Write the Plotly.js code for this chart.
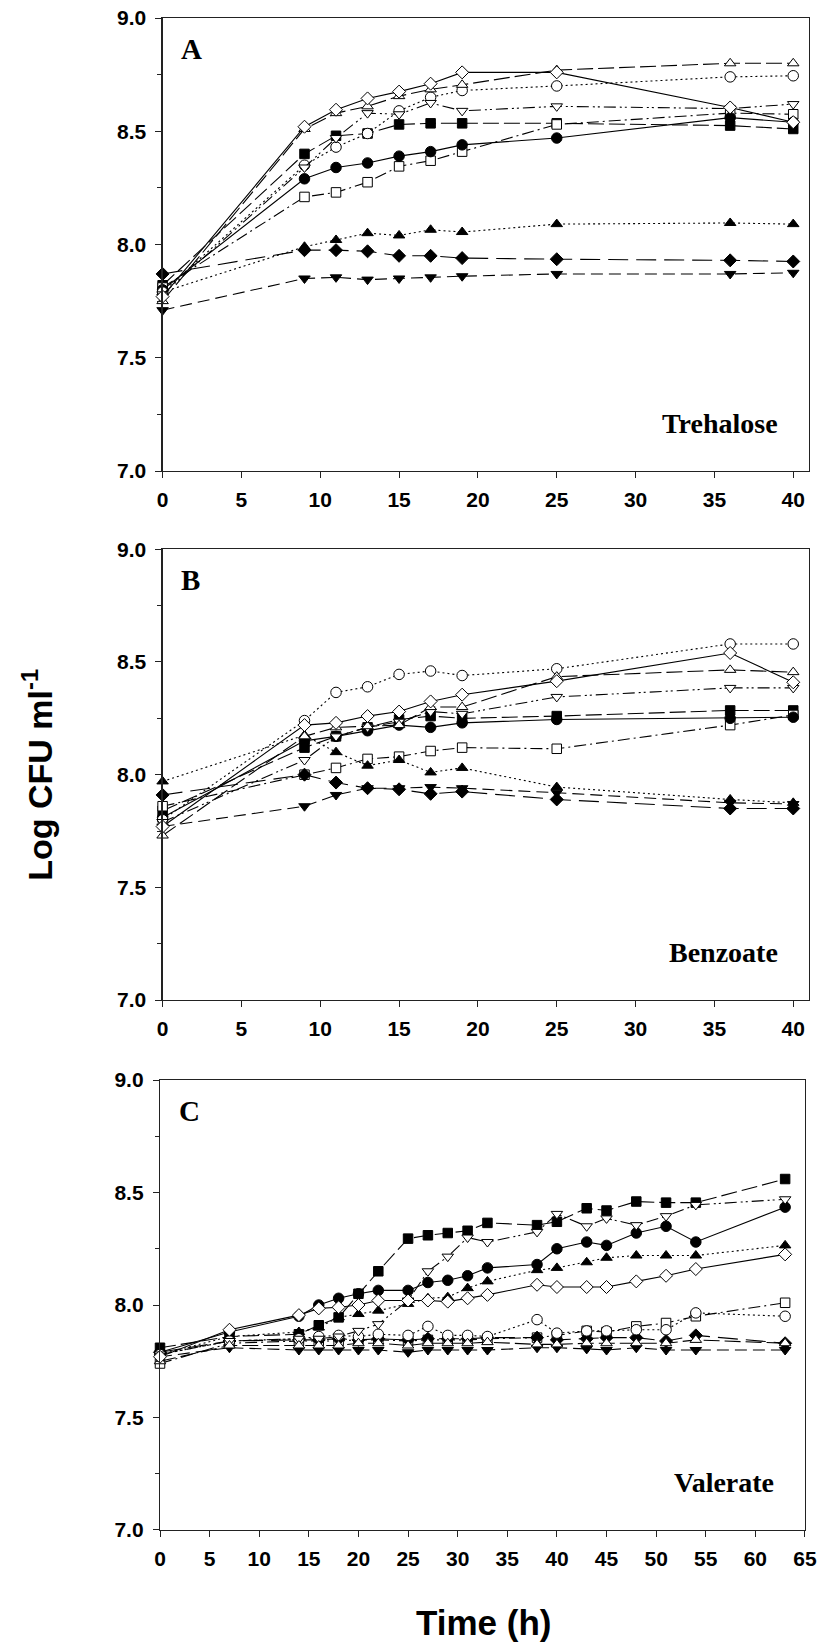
<!DOCTYPE html>
<html><head><meta charset="utf-8">
<script src="https://cdn.plot.ly/plotly-3.0.1.min.js"></script>
<style>body{margin:0;background:#fff}#chart{width:824px;height:1648px}</style>
</head><body><div id="chart"></div>
<script>
// ---------- data ----------
const timeAB = [0, 9, 11, 13, 15, 17, 19, 25, 36, 40];
const timeC = [0, 7, 14, 16, 18, 20, 22, 25, 27, 29, 31, 33, 38, 40, 43, 45, 48, 51, 54, 63];

// Panel A: Trehalose
const treFCircle  = [7.80, 8.29, 8.34, 8.36, 8.39, 8.41, 8.44, 8.47, 8.56, 8.54];
const treOCircle  = [7.79, 8.35, 8.43, 8.49, 8.59, 8.65, 8.68, 8.70, 8.74, 8.745];
const treFTriUp   = [7.79, 7.99, 8.02, 8.05, 8.04, 8.065, 8.055, 8.09, 8.095, 8.09];
const treOTriUp   = [7.75, 8.51, 8.58, 8.61, 8.655, 8.685, 8.705, 8.77, 8.80, 8.80];
const treFTriDown = [7.71, 7.85, 7.855, 7.845, 7.85, 7.855, 7.86, 7.87, 7.87, 7.875];
const treOTriDown = [7.78, 8.34, 8.47, 8.58, 8.575, 8.625, 8.59, 8.61, 8.60, 8.62];
const treFSquare  = [7.82, 8.40, 8.48, 8.49, 8.53, 8.535, 8.535, 8.535, 8.525, 8.51];
const treOSquare  = [7.81, 8.21, 8.23, 8.275, 8.345, 8.37, 8.41, 8.53, 8.58, 8.575];
const treFDiamond = [7.87, 7.975, 7.975, 7.97, 7.95, 7.95, 7.94, 7.935, 7.93, 7.925];
const treODiamond = [7.77, 8.52, 8.595, 8.645, 8.675, 8.71, 8.76, 8.76, 8.605, 8.54];

// Panel B: Benzoate
const benFCircle  = [7.81, 8.15, 8.17, 8.195, 8.22, 8.21, 8.23, 8.245, 8.25, 8.255];
const benOCircle  = [7.80, 8.24, 8.365, 8.39, 8.445, 8.46, 8.44, 8.47, 8.58, 8.58];
const benFTriUp   = [7.97, 8.175, 8.10, 8.04, 8.065, 8.01, 8.03, 7.945, 7.89, 7.875];
const benOTriUp   = [7.73, 8.17, 8.21, 8.215, 8.22, 8.30, 8.30, 8.435, 8.465, 8.455];
const benFTriDown = [7.77, 7.86, 7.91, 7.94, 7.94, 7.945, 7.94, 7.92, 7.875, 7.87];
const benOTriDown = [7.79, 8.065, 8.17, 8.21, 8.235, 8.28, 8.27, 8.345, 8.385, 8.385];
const benFSquare  = [7.84, 8.12, 8.17, 8.21, 8.245, 8.26, 8.25, 8.26, 8.285, 8.285];
const benOSquare  = [7.86, 8.00, 8.03, 8.07, 8.08, 8.105, 8.12, 8.115, 8.22, 8.265];
const benFDiamond = [7.91, 8.00, 7.965, 7.94, 7.935, 7.915, 7.925, 7.89, 7.85, 7.85];
const benODiamond = [7.77, 8.22, 8.23, 8.26, 8.28, 8.325, 8.355, 8.415, 8.54, 8.41];

// Panel C: Valerate
const valFCircle  = [7.79, 7.88, 7.95, 8.00, 8.03, 8.05, 8.065, 8.065, 8.10, 8.11, 8.13, 8.165, 8.18, 8.25, 8.28, 8.265, 8.32, 8.35, 8.28, 8.435];
const valOCircle  = [7.78, 7.84, 7.85, 7.86, 7.865, 7.86, 7.87, 7.865, 7.905, 7.865, 7.865, 7.86, 7.935, 7.875, 7.885, 7.885, 7.89, 7.89, 7.965, 7.95];
const valFTriUp   = [7.78, 7.86, 7.88, 7.90, 7.945, 7.96, 7.975, 8.005, 8.03, 8.035, 8.075, 8.105, 8.155, 8.165, 8.19, 8.21, 8.22, 8.22, 8.22, 8.265];
const valOTriUp   = [7.75, 7.82, 7.82, 7.82, 7.82, 7.83, 7.83, 7.82, 7.83, 7.83, 7.83, 7.835, 7.825, 7.825, 7.83, 7.83, 7.83, 7.83, 7.845, 7.83];
const valFTriDown = [7.77, 7.81, 7.80, 7.80, 7.80, 7.80, 7.80, 7.79, 7.80, 7.80, 7.80, 7.80, 7.81, 7.81, 7.805, 7.80, 7.81, 7.80, 7.80, 7.80];
const valOTriDown = [7.78, 7.84, 7.85, 7.85, 7.86, 7.885, 7.915, 8.02, 8.15, 8.215, 8.30, 8.28, 8.325, 8.405, 8.35, 8.385, 8.355, 8.395, 8.445, 8.47];
const valFSquare  = [7.81, 7.86, 7.87, 7.91, 7.945, 8.05, 8.15, 8.295, 8.31, 8.32, 8.33, 8.365, 8.355, 8.37, 8.43, 8.42, 8.46, 8.455, 8.455, 8.56];
const valOSquare  = [7.74, 7.83, 7.84, 7.84, 7.84, 7.845, 7.845, 7.84, 7.845, 7.845, 7.845, 7.85, 7.855, 7.865, 7.885, 7.88, 7.905, 7.92, 7.95, 8.01];
const valFDiamond = [7.79, 7.84, 7.845, 7.845, 7.85, 7.845, 7.85, 7.845, 7.85, 7.85, 7.85, 7.855, 7.855, 7.845, 7.85, 7.855, 7.855, 7.84, 7.865, 7.83];
const valODiamond = [7.77, 7.89, 7.955, 7.985, 7.99, 8.00, 8.02, 8.02, 8.02, 8.015, 8.03, 8.045, 8.09, 8.08, 8.08, 8.08, 8.105, 8.13, 8.16, 8.225];

const yTicks = [7.0, 7.5, 8.0, 8.5, 9.0];
const panelLetters = ['A', 'B', 'C'];
const substrates = ['Trehalose', 'Benzoate', 'Valerate'];

// ---------- styles ----------
const styles = {
  fSquare:  {symbol: 'square',        fill: 'black', dash: '16px,5px', size: 9.5},
  oSquare:  {symbol: 'square',        fill: 'white', dash: '12px,4px,2px,4px', size: 9.5},
  fDiamond: {symbol: 'diamond',       fill: 'black', dash: '20px,8px', size: 10},
  fTriDown: {symbol: 'triangle-down', fill: 'black', dash: '12px,6px', size: 10},
  fTriUp:   {symbol: 'triangle-up',   fill: 'black', dash: '2px,3px', size: 10},
  fCircle:  {symbol: 'circle',        fill: 'black', dash: 'solid', size: 10.5},
  oCircle:  {symbol: 'circle',        fill: 'white', dash: '2px,3px', size: 10.5},
  oTriDown: {symbol: 'triangle-down', fill: 'white', dash: '12px,4px,2px,3px,2px,4px', size: 10},
  oTriUp:   {symbol: 'triangle-up',   fill: 'white', dash: '16px,5px', size: 10},
  oDiamond: {symbol: 'diamond',       fill: 'white', dash: 'solid', size: 10}
};

const panels = [
  {t: timeAB, ax: '', series: {fSquare: treFSquare, oSquare: treOSquare, fDiamond: treFDiamond, fTriDown: treFTriDown, fTriUp: treFTriUp, fCircle: treFCircle, oCircle: treOCircle, oTriDown: treOTriDown, oTriUp: treOTriUp, oDiamond: treODiamond}},
  {t: timeAB, ax: '2', series: {fSquare: benFSquare, oSquare: benOSquare, fDiamond: benFDiamond, fTriDown: benFTriDown, fTriUp: benFTriUp, fCircle: benFCircle, oCircle: benOCircle, oTriDown: benOTriDown, oTriUp: benOTriUp, oDiamond: benODiamond}},
  {t: timeC, ax: '3', series: {fSquare: valFSquare, oSquare: valOSquare, fDiamond: valFDiamond, fTriDown: valFTriDown, fTriUp: valFTriUp, fCircle: valFCircle, oCircle: valOCircle, oTriDown: valOTriDown, oTriUp: valOTriUp, oDiamond: valODiamond}}
];

const traces = [];
panels.forEach(p => {
  Object.keys(p.series).forEach(k => {
    const s = styles[k];
    traces.push({
      x: p.t, y: p.series[k], type: 'scatter', mode: 'lines+markers',
      xaxis: 'x' + p.ax, yaxis: 'y' + p.ax, cliponaxis: false, showlegend: false,
      line: {color: 'black', width: 1.1, dash: s.dash},
      marker: {symbol: s.symbol, size: s.size, color: s.fill, line: {color: 'black', width: 1}}
    });
  });
});

const tickFont = {family: 'Liberation Sans, Arial, sans-serif', size: 21, color: 'black', weight: 'bold'};
function xax(domain, range, anchor) {
  return {domain: domain, range: range, anchor: anchor, dtick: 5, tick0: 0, ticks: 'outside', ticklen: 6,
    tickwidth: 1, tickcolor: '#222', showline: true, mirror: true, linecolor: '#222', linewidth: 1.2,
    showgrid: false, zeroline: false, tickfont: tickFont, ticklabelstandoff: 4};
}
function yax(domain, anchor) {
  return {domain: domain, range: [7, 9], anchor: anchor, tickvals: yTicks, tickformat: '.1f',
    ticks: 'outside', ticklen: 6, tickwidth: 1, tickcolor: '#222', showline: true, mirror: true,
    linecolor: '#222', linewidth: 1.2, showgrid: false, zeroline: false, tickfont: tickFont,
    ticklabelstandoff: 5,
    minor: {dtick: 0.25, tick0: 7, ticks: 'outside', ticklen: 4, tickcolor: '#222', showgrid: false}};
}

const annotations = [];
['y', 'y2', 'y3'].forEach((ya, i) => {
  const xa = ['x', 'x2', 'x3'][i];
  annotations.push({xref: xa + ' domain', yref: ya + ' domain', x: 0.026, y: 0.932, xanchor: 'left', yanchor: 'middle',
    text: panelLetters[i], showarrow: false,
    font: {family: 'Liberation Serif, Times New Roman, serif', size: 29, color: 'black', weight: 'bold'}});
  annotations.push({xref: xa + ' domain', yref: ya + ' domain', x: 0.955, y: 0.105, xanchor: 'right', yanchor: 'middle',
    text: substrates[i], showarrow: false,
    font: {family: 'Liberation Serif, Times New Roman, serif', size: 28, color: 'black', weight: 'bold'}});
});
annotations.push({xref: 'paper', yref: 'paper', x: -0.19, y: 0.4993, xanchor: 'center', yanchor: 'middle',
  textangle: -90, text: 'Log CFU ml<sup>-1</sup>', showarrow: false,
  font: {family: 'Liberation Sans, Arial, sans-serif', size: 34, color: 'black', weight: 'bold'}});
annotations.push({xref: 'paper', yref: 'paper', x: 0.499, y: -0.061, xanchor: 'center', yanchor: 'middle',
  text: 'Time (h)', showarrow: false,
  font: {family: 'Liberation Sans, Arial, sans-serif', size: 35, color: 'black', weight: 'bold'}});

const layout = {
  width: 824, height: 1648,
  margin: {l: 160, r: 15, t: 18, b: 118},
  paper_bgcolor: 'white', plot_bgcolor: 'white',
  showlegend: false,
  xaxis:  xax([0.004, 1], [0, 41], 'y'),
  yaxis:  yax([0.7004, 1], 'x'),
  xaxis2: xax([0.004, 1], [0, 41], 'y2'),
  yaxis2: yax([0.3505, 0.6486], 'x2'),
  xaxis3: xax([0, 0.9938], [0, 65], 'y3'),
  yaxis3: yax([0, 0.2976], 'x3'),
  annotations: annotations
};

Plotly.newPlot('chart', traces, layout, {staticPlot: true, displayModeBar: false});
</script>
</body></html>
